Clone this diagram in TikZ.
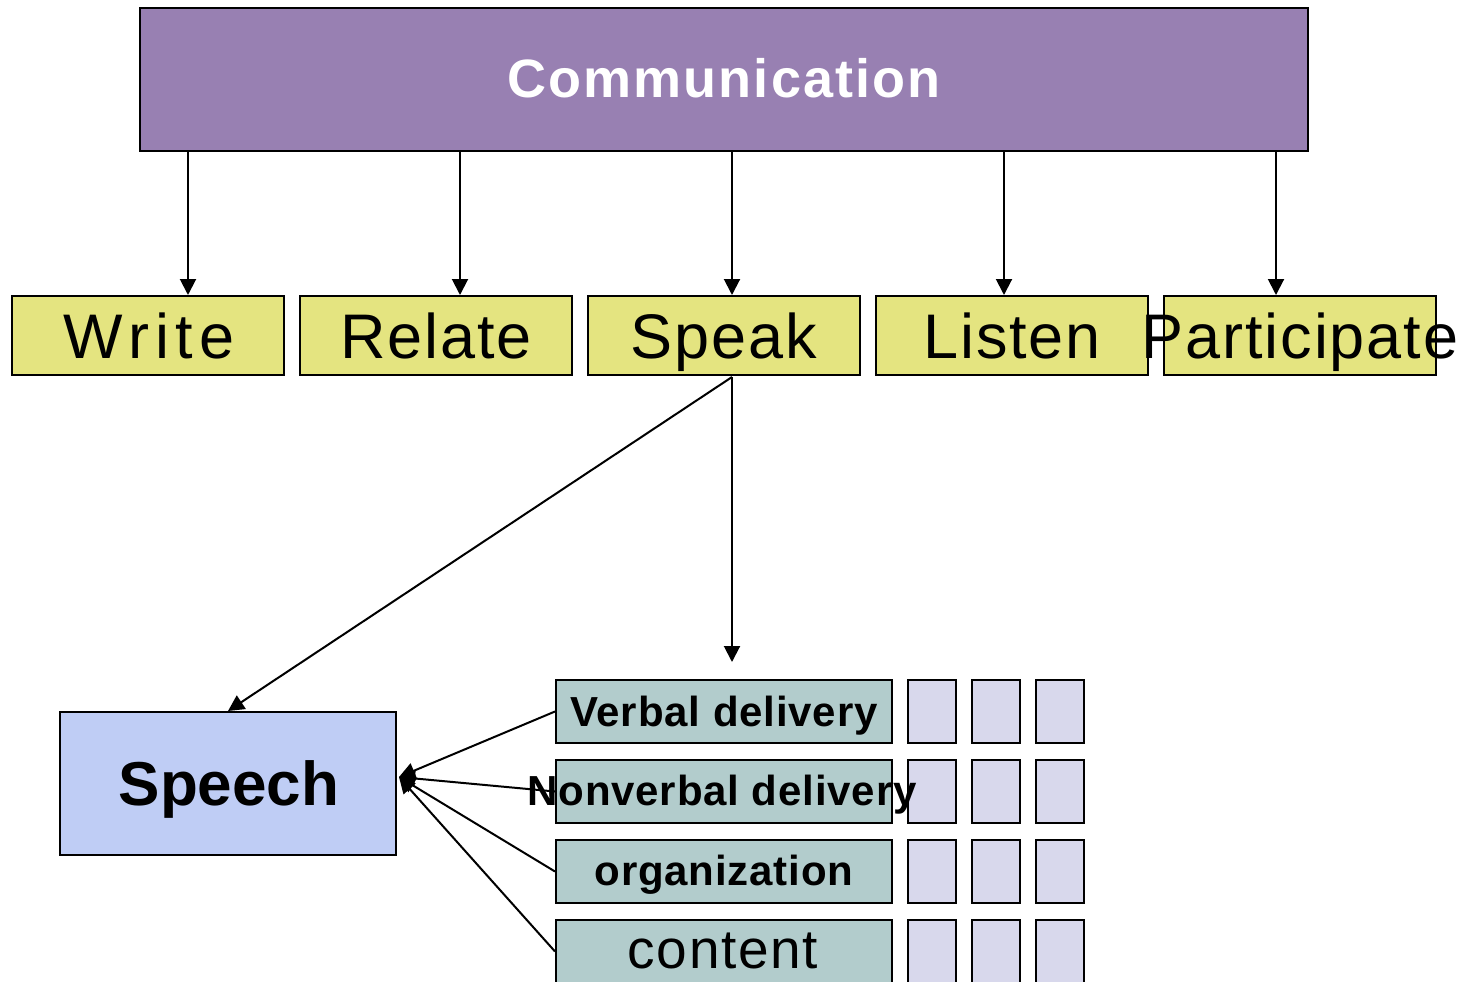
\documentclass[tikz,border=0pt]{standalone}
\usepackage{fontspec}
\setmainfont{Liberation Sans}
\usetikzlibrary{arrows.meta}
\definecolor{cpurple}{HTML}{9880B2}
\definecolor{cyellow}{HTML}{E4E480}
\definecolor{cblue}{HTML}{BFCDF5}
\definecolor{cteal}{HTML}{B2CCCC}
\definecolor{clav}{HTML}{D8D8EC}
\tikzset{
  boxbase/.style={draw=black,line width=2pt,rectangle,inner sep=0pt},
  commbox/.style={boxbase,fill=cpurple,minimum width=1168pt,minimum height=143pt},
  rowbox/.style={boxbase,fill=cyellow,minimum width=272pt,minimum height=79pt},
  speechbox/.style={boxbase,fill=cblue,minimum width=336pt,minimum height=143pt},
  tealbox/.style={boxbase,fill=cteal,minimum width=336pt,minimum height=63pt},
  sqbox/.style={boxbase,fill=clav,minimum width=48pt,minimum height=63pt},
  lbl/.style={inner sep=0pt,anchor=base},
  rowtxt/.style={lbl,font=\fontsize{63}{70}\selectfont\addfontfeatures{LetterSpace=3}},
  smalltxt/.style={lbl,font=\fontsize{42}{48}\selectfont\bfseries\addfontfeatures{LetterSpace=2}},
  arr/.style={line width=2pt,-{Triangle[length=16pt,width=16pt]}},
}
\begin{document}
\begin{tikzpicture}[x=1pt,y=-1pt]
\useasboundingbox[fill=white] (0,0) rectangle (1470,982);
% top box
\node[commbox] (comm) at (724,79.5) {};
\node[lbl,text=white,font=\fontsize{54}{60}\selectfont\bfseries\addfontfeatures{LetterSpace=4}] (commt) at (724,97) {Communication};
% row boxes
\node[rowbox] (write) at (148,335.5) {};
\node[rowbox] (relate) at (436,335.5) {};
\node[rowbox] (speak) at (724,335.5) {};
\node[rowbox] (listen) at (1012,335.5) {};
\node[rowbox] (part) at (1300,335.5) {};
\node[lbl,font=\fontsize{63}{70}\selectfont\addfontfeatures{LetterSpace=10}] (writet) at (149,358) {Write};
\node[rowtxt] (relatet) at (436,358) {Relate};
\node[rowtxt] (speakt) at (724,358) {Speak};
\node[rowtxt] (listent) at (1012,358) {Listen};
\node[rowtxt] (partt) at (1300,358) {Participate};
% arrows from top
\draw[arr] (comm.south -| 188,0) -- (write.north -| 188,0);
\draw[arr] (comm.south -| 460,0) -- (relate.north -| 460,0);
\draw[arr] (comm.south -| 732,0) -- (speak.north -| 732,0);
\draw[arr] (comm.south -| 1004,0) -- (listen.north -| 1004,0);
\draw[arr] (comm.south -| 1276,0) -- (part.north -| 1276,0);
% speech
\node[speechbox] (speech) at (228,783.5) {};
\node[lbl,font=\fontsize{62}{70}\selectfont\bfseries] (speecht) at (229,805) {Speech};
% teal boxes
\node[tealbox] (verbal) at (724,711.5) {};
\node[tealbox] (nonverbal) at (724,791.5) {};
\node[tealbox] (org) at (724,871.5) {};
\node[tealbox] (content) at (724,951.5) {};
% small squares
\foreach \r/\y in {1/711.5,2/791.5,3/871.5,4/951.5}{
  \foreach \c/\x in {1/932,2/996,3/1060}{
    \node[sqbox] (sq\r\c) at (\x,\y) {};
  }
}
% arrows from speak
\coordinate (spk) at (732,377);
\coordinate (down) at (732,662);
\draw[arr] (spk) -- (down);
\draw[arr] (spk) -- (speech.north);
% converging arrows
\coordinate (hub) at (399,777);
\draw[arr] (verbal.west) -- (hub);
\draw[arr] (nonverbal.west) -- (hub);
\draw[arr] (org.west) -- (hub);
\draw[arr] (content.west) -- (hub);
% teal texts (drawn above lines)
\node[smalltxt] (verbalt) at (724,726) {Verbal delivery};
\node[smalltxt] (nonverbalt) at (722,805) {Nonverbal delivery};
\node[smalltxt] (orgt) at (724,885) {organization};
\node[lbl,font=\fontsize{55}{60}\selectfont\addfontfeatures{LetterSpace=3}] (contentt) at (723,968) {content};
\end{tikzpicture}
\end{document}
